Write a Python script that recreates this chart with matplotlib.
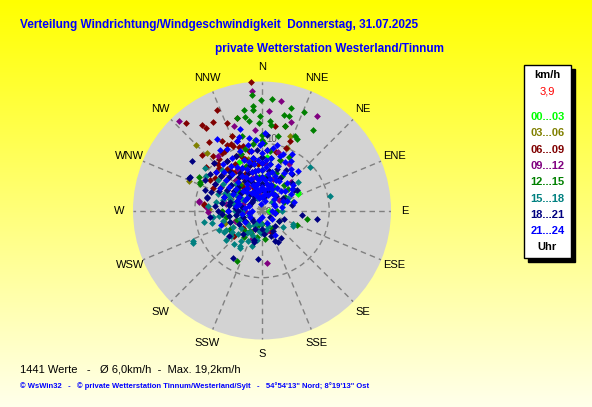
import numpy as np
import matplotlib.pyplot as plt
from matplotlib.patches import Rectangle

plt.rcParams['font.family'] = ['Liberation Sans', 'DejaVu Sans']

# (direction deg, speed km/h) per 3 hour block
wind_00_03 = [(63, 6), (65, 5.9), (0, 4), (350, 5), (340, 4), (10, 3), (330, 6), (355, 7), (20, 5),
              (320, 5), (345, 3), (0, 6), (5, 8), (335, 8), (325, 4), (30, 4), (15, 6), (310, 3),
              (300, 5), (90, 1)]
wind_03_06 = [(315, 13.8), (316, 11.8), (292, 11.7), (338, 11.9), (21, 11.8), (22, 10.1), (252, 5.8),
              (251, 5.8), (272, 7.9), (330, 7), (340, 6), (350, 5), (320, 6), (0, 4), (310, 4),
              (345, 8), (335, 9), (325, 5), (300, 6), (10, 5), (355, 6), (5, 7)]
wind_06_09 = [(355, 19.2), (336, 16.3), (319, 17.3), (325, 15.5), (326, 14.8), (331, 15.1), (338, 14),
              (345, 14.2), (322, 12.9), (313, 12.2), (9, 12.7), (15, 13), (22, 11.1), (21, 10),
              (14, 8.9), (276, 8.7), (275, 8.7), (228, 5.6), (228, 3.8), (158, 3.5),
              (330, 8), (335, 9), (340, 10), (332, 11), (325, 9), (320, 8), (315, 7), (310, 9),
              (328, 10.5), (338, 12), (342, 8), (345, 7), (348, 9), (350, 6), (335, 6), (325, 6),
              (315, 5), (320, 10), (318, 11), (310, 6), (300, 7), (305, 5), (290, 5), (340, 5),
              (330, 4), (350, 4), (355, 7), (0, 8), (5, 9), (330, 12), (336, 10.5), (322, 7.5),
              (312, 8), (344, 10), (327, 7), (317, 9.5), (308, 10.5),
              (320, 6), (330, 7), (340, 8.5), (325, 10.5), (335, 11), (310, 8), (305, 8.5), (315, 9),
              (300, 9), (345, 6), (350, 7.5), (0, 6), (330, 5.5), (320, 4.5), (340, 3.5), (310, 4),
              (295, 8)]
wind_09_12 = [(355, 17.9), (10, 16.5), (30, 16.3), (4, 14.8), (18, 13.8), (317, 18.2), (342, 13.3),
              (321, 10.5), (355, 12), (279, 9.5), (278, 9.5), (268, 8.1), (273, 8.2), (175, 7.9),
              (167, 3.2), (248, 4.3), (335, 7), (345, 5), (0, 6), (10, 4), (20, 3), (330, 4),
              (310, 5), (290, 4), (350, 9), (5, 7), (340, 11), (325, 8), (300, 2), (250, 2),
              (30, 8), (25, 5), (330, 7), (340, 9), (0, 7), (15, 9), (310, 7), (290, 6), (270, 5),
              (200, 3), (350, 4), (20, 8), (320, 6), (300, 8),
              (320, 4), (330, 5.5), (310, 3), (300, 5), (290, 3), (280, 5.5), (340, 6), (350, 2.5),
              (0, 5), (10, 6), (20, 5), (30, 3), (270, 2.5), (250, 4), (230, 3), (200, 4.5),
              (180, 3), (60, 3), (45, 6), (315, 10)]
wind_12_15 = [(359.5, 16.4), (5, 16.6), (355, 17.2), (355, 15.6), (355, 15), (350, 15.2), (350, 14.2),
              (352, 13.5), (16, 15.8), (23, 16), (32, 14.2), (359, 14.1), (358, 13), (5, 13.4),
              (6, 12.8), (13, 14.6), (16, 14.7), (15, 13), (24, 12.2), (26, 11.8), (0, 11.2),
              (0, 10.5), (2, 10), (12, 11.3), (27, 9), (354, 10.6), (352, 10), (345, 14.2),
              (298, 10.6), (293, 10), (295, 10.2), (101, 6.8), (112, 5.6), (74, 4.8), (90, 2.2),
              (206, 8.4), (214, 4.8), (239, 5.5), (240, 5.5), (196, 2.2), (174, 4.2), (195, 2.3),
              (206, 3.8), (340, 7), (350, 8), (10, 7), (20, 6), (330, 6), (300, 5), (320, 3),
              (0, 4), (40, 3), (270, 3), (250, 4), (10, 5), (345, 11.5), (8, 9),
              (0, 6), (10, 8), (20, 8), (350, 7), (340, 9), (30, 6), (40, 5), (290, 6), (270, 6),
              (250, 3), (220, 4), (180, 2), (60, 4), (15, 4), (355, 5),
              (300, 3), (310, 4.5), (320, 5), (330, 3), (340, 4), (350, 3), (0, 8), (5, 5), (25, 4),
              (35, 3), (280, 5), (260, 5.5), (240, 3), (210, 3.5), (190, 4), (150, 3), (120, 3),
              (70, 3.5), (50, 5), (345, 9.5)]
wind_15_18 = [(48, 9.6), (52, 6.8), (78, 10.3), (113, 5), (116, 5.1), (129, 4), (245, 11.3),
              (246, 11.3), (212, 6.2), (211, 6.5), (231, 6.9), (241, 6.1), (241, 6.5), (209, 3.7),
              (214, 4), (263, 7.4), (263, 6.4), (259, 8.8), (256, 7.7), (307, 10.6), (302, 9.8),
              (305, 8), (65, 4.3), (159, 2.5), (183, 3.4), (240, 4), (260, 5), (280, 6), (290, 7),
              (270, 3), (230, 3), (200, 2), (310, 5), (320, 4), (300, 3), (340, 2), (0, 2), (20, 3),
              (50, 2), (90, 3), (285, 4.5), (275, 8), (250, 5), (225, 5), (190, 4.5), (315, 8.5),
              (295, 6), (260, 4), (250, 3.5), (240, 5), (230, 4), (220, 3), (270, 5), (280, 4),
              (265, 6), (245, 7), (255, 6), (235, 5.5), (215, 5.5), (200, 4), (190, 3), (210, 2.5),
              (280, 7), (290, 4), (295, 5.5), (300, 3.5), (310, 6), (320, 3), (275, 3), (285, 6),
              (250, 2), (260, 3), (270, 4), (280, 5), (290, 5), (300, 4.5), (305, 7), (315, 5.5),
              (325, 4), (230, 6), (220, 6.5), (205, 5), (195, 5.5), (185, 2), (170, 3)]
wind_18_21 = [(4, 11.3), (305, 12.8), (295, 11.9), (294, 11.9), (298, 9.6), (283, 8.4), (284, 8.4),
              (263, 7.8), (211, 8.3), (185, 7.3), (194, 4.8), (195, 4.6), (153, 5.2), (146, 5),
              (157, 5), (152, 3.5), (123, 3), (180, 2.8), (233, 6.2), (96, 6), (99, 8.3), (57, 5.7),
              (60, 3.6), (47, 6.1), (29, 5.6), (330, 5), (340, 6), (350, 4), (0, 5), (10, 6),
              (20, 4), (320, 7), (310, 6), (300, 4), (280, 5), (260, 4), (240, 3), (220, 2),
              (350, 8), (335, 9), (0, 8), (15, 3), (290, 8), (315, 10), (325, 3), (270, 6.5),
              (345, 7), (5, 3), (300, 6), (305, 5), (310, 4), (315, 5), (320, 4), (325, 6),
              (290, 4), (290, 6), (295, 7), (285, 5), (280, 6), (275, 4), (270, 5), (330, 6.5),
              (335, 7), (340, 4.5), (345, 4), (320, 7.5), (310, 8), (300, 8), (350, 6), (0, 7),
              (0, 4), (10, 5), (250, 3), (240, 4), (200, 3), (175, 3.5), (160, 4), (140, 3),
              (110, 3.5), (80, 4.5), (60, 6), (40, 7), (355, 9),
              (300, 2), (310, 2), (320, 2), (330, 2.5), (340, 3), (280, 3), (270, 3.5), (260, 5),
              (250, 5), (290, 9), (305, 9.5), (315, 7), (325, 9), (335, 5), (0, 3), (10, 2),
              (20, 6.5), (30, 7), (45, 3), (100, 2), (130, 1.5), (220, 4.5), (230, 2), (265, 6),
              (275, 7)]
wind_21_24 = [(345, 12.5), (328, 12.5), (343, 11.5), (350, 11), (355, 10.5), (2, 11.5), (325, 11),
              (320, 9), (28, 9.5), (20, 9), (13, 10), (42, 8), (38, 7), (50, 6), (55, 5.5), (60, 5),
              (70, 4), (80, 3), (100, 2), (130, 2), (152, 4.1), (160, 2), (200, 1.5), (240, 2),
              (260, 3), (280, 4), (250, 6.5), (290, 6), (270, 5), (235, 3), (310, 7), (300, 5),
              (350, 2), (350, 3), (350, 4), (350, 5), (350, 6), (350, 7), (350, 8), (350, 9),
              (340, 2.5), (340, 4), (340, 5), (340, 6.5), (340, 8), (340, 9.5),
              (0, 2), (0, 3.5), (0, 5), (0, 6), (0, 7), (0, 8.5),
              (10, 2.5), (10, 4), (10, 5.5), (10, 7), (10, 8),
              (20, 2.5), (20, 4), (20, 5.5), (20, 7), (30, 3), (30, 5), (30, 6.5),
              (330, 3), (330, 4.5), (330, 6), (330, 7.5), (330, 9), (320, 3.5), (320, 5.5), (320, 7),
              (310, 3), (310, 5), (345, 3.5), (355, 4.5), (5, 3), (5, 6.5), (15, 4.8), (355, 7.5),
              (345, 6), (335, 7), (5, 9), (358, 9.8), (348, 10), (25, 8), (45, 4), (40, 3),
              (300, 3), (290, 2), (270, 1.5), (180, 1), (90, 1.5), (60, 2),
              (355, 1), (15, 1.5), (45, 2.5), (70, 2), (300, 4), (305, 6), (315, 4), (315, 8),
              (325, 4), (325, 8), (335, 3), (335, 5.5), (345, 2), (345, 7.5), (355, 3), (355, 6),
              (5, 4.5), (5, 7.5), (15, 3.5), (15, 6), (25, 3.5), (25, 5), (35, 4), (35, 7.5),
              (50, 4.5), (290, 4), (280, 2.5), (260, 2), (340, 11), (0, 10), (10, 9.5), (18, 8.5),
              (30, 8.5), (42, 5.5), (65, 3.5), (75, 5), (310, 9), (298, 7), (285, 3.5), (330, 10.5)]

groups = [wind_00_03, wind_03_06, wind_06_09, wind_09_12, wind_12_15, wind_15_18, wind_18_21, wind_21_24]
hour_labels = ['00...03', '03...06', '06...09', '09...12', '12...15', '15...18', '18...21', '21...24']
colors = ['#00FF00', '#808000', '#800000', '#800080', '#008000', '#008080', '#000080', '#0000FF']
directions = ['N', 'NNE', 'NE', 'ENE', 'E', 'ESE', 'SE', 'SSE',
              'S', 'SSW', 'SW', 'WSW', 'W', 'WNW', 'NW', 'NNW']
r_max = 19.2
current_speed = '3,9'
title = 'Verteilung Windrichtung/Windgeschwindigkeit  Donnerstag, 31.07.2025'
subtitle = 'private Wetterstation Westerland/Tinnum'
stats = '1441 Werte   -   Ø 6,0km/h  -  Max. 19,2km/h'
footer = '© WsWin32   -   © private Wetterstation Tinnum/Westerland/Sylt   -   54°54\'13" Nord; 8°19\'13" Ost'

W, H = 592, 407
fig = plt.figure(figsize=(W / 100, H / 100), dpi=100)

# yellow gradient background
bg = fig.add_axes([0, 0, 1, 1])
t = np.linspace(0, 1, 256)[:, None]
grad = np.ones((256, 1, 3))
grad[:, :, 2] = 0.92 * t
bg.imshow(grad, aspect='auto', extent=[0, 1, 0, 1], origin='upper')
bg.axis('off')

cx, cy, R = 262, 210.5, 129
ax = fig.add_axes([(cx - R) / W, 1 - (cy + R) / H, 2 * R / W, 2 * R / H], projection='polar')
ax.set_facecolor('#D3D3D3')
ax.set_theta_zero_location('N')
ax.set_theta_direction(-1)
ax.set_ylim(0, r_max)
ax.set_yticks([10])
ax.set_yticklabels([])
ax.set_xticks(np.radians(np.arange(0, 360, 22.5)))
ax.set_xticklabels([])
ax.grid(color='#808080', linestyle=(0, (4, 3)), linewidth=1)
ax.spines['polar'].set_visible(False)

for pts, c in zip(groups, colors):
    d = np.radians([p[0] for p in pts])
    s = [p[1] for p in pts]
    ax.scatter(d, s, marker='D', s=12, color=c, linewidths=0, zorder=3, clip_on=False)

ax.text(np.radians(100), 0.9, '0', color='#555555', fontsize=7, ha='center', va='center', zorder=2)
ax.text(np.radians(8), 10.7, '10', color='#555555', fontsize=7, ha='center', va='center', zorder=2)

for i, lab in enumerate(directions):
    ax.text(np.radians(i * 22.5), 21.3, lab, fontsize=8, ha='center', va='center', clip_on=False)

fig.text(20 / W, 1 - 25 / H, title, color='#0000FF', fontsize=8.5, fontweight='bold', va='center')
fig.text(215 / W, 1 - 49 / H, subtitle, color='#0000FF', fontsize=8.5, fontweight='bold', va='center')
fig.text(20 / W, 1 - 369 / H, stats, fontsize=8, va='center')
fig.text(20 / W, 1 - 386 / H, footer, color='#0000FF', fontsize=5.5, fontweight='bold', va='center')

# legend box with shadow
bx0, by0, bx1, by1 = 524, 65, 571, 258
fig.patches.append(Rectangle(((bx0 + 4) / W, 1 - (by1 + 4) / H), (bx1 - bx0) / W, (by1 - by0) / H,
                             transform=fig.transFigure, color='black', zorder=1))
fig.patches.append(Rectangle((bx0 / W, 1 - by1 / H), (bx1 - bx0) / W, (by1 - by0) / H,
                             transform=fig.transFigure, facecolor='white', edgecolor='black',
                             linewidth=1, zorder=2))
mx = (bx0 + bx1) / 2 / W
fig.text(mx, 1 - 75 / H, 'km/h', fontsize=8, fontweight='bold', ha='center', va='center', zorder=3)
fig.text(mx, 1 - 91 / H, current_speed, fontsize=8, color='red', ha='center', va='center', zorder=3)
for i, (lab, c) in enumerate(zip(hour_labels, colors)):
    fig.text(mx, 1 - (117 + i * 16.3) / H, lab, fontsize=8, fontweight='bold', color=c,
             ha='center', va='center', zorder=3)
fig.text(mx, 1 - 247 / H, 'Uhr', fontsize=8, fontweight='bold', ha='center', va='center', zorder=3)

fig.savefig('out.png', dpi=100)
